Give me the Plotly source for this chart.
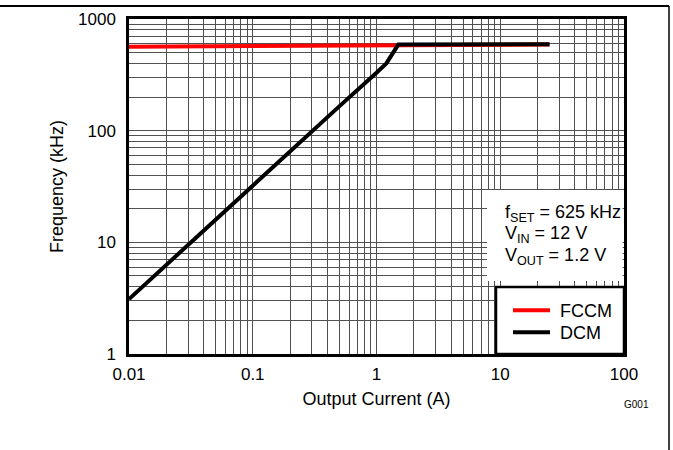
import plotly.graph_objects as go

# ---- data ----
fccm_current = [0.01, 0.1, 1.0, 1.5, 25.0]
fccm_freq = [565, 570, 577, 580, 592]

dcm_current = [0.01, 0.02, 0.05, 0.1, 0.2, 0.5, 1.0, 1.2, 1.5, 2.0, 5.0, 10.0, 25.0]
dcm_freq = [3.1, 6.3, 16.0, 32.5, 65.0, 165.0, 330.0, 400.0, 590.0, 591.0, 593.0, 594.0, 595.0]

x_major = [0.01, 0.1, 1, 10, 100]
x_labels = ["0.01", "0.1", "1", "10", "100"]
y_major = [1, 10, 100, 1000]
y_labels = ["1", "10", "100", "1000"]

annot_lines = ["f<sub>SET</sub> = 625 kHz", "V<sub>IN</sub> = 12 V", "V<sub>OUT</sub> = 1.2 V"]

# ---- layout geometry (pixels) ----
W, H = 673, 450
L, R, T, B = 129, 49, 19, 96
PW = W - L - R
PH = H - T - B


def px(x):
    return (x - L) / PW


def py(y):
    return (H - B - y) / PH


def minor_vals(majors):
    vals = []
    for m in majors[:-1]:
        for k in range(2, 10):
            vals.append(m * k)
    return vals


FONT = "Liberation Sans, Arial, sans-serif"
GRID = "#505050"

fig = go.Figure()
fig.add_trace(go.Scatter(x=fccm_current, y=fccm_freq, mode="lines", name="\u00a0FCCM",
                         line=dict(color="#ff0000", width=4), legend="legend"))
fig.add_trace(go.Scatter(x=dcm_current, y=dcm_freq, mode="lines", name="\u00a0DCM",
                         line=dict(color="#000000", width=4), legend="legend2"))

axis_common = dict(
    showgrid=True, gridcolor=GRID, gridwidth=1,
    showline=True, linecolor="black", linewidth=2.5, mirror=True,
    ticks="", zeroline=False,
    tickfont=dict(family=FONT, size=17, color="black"),
)

fig.update_xaxes(type="log", range=[-2, 2], tickmode="array", tickvals=x_major, ticktext=x_labels,
                 minor=dict(tickmode="array", tickvals=minor_vals(x_major), showgrid=True,
                            gridcolor=GRID, gridwidth=1, ticks=""),
                 ticklabelstandoff=3,
                 title=dict(text="Output Current (A)", font=dict(family=FONT, size=18, color="black"),
                            standoff=10),
                 **axis_common)
fig.update_yaxes(type="log", range=[0, 3], tickmode="array", tickvals=y_major, ticktext=y_labels,
                 minor=dict(tickmode="array", tickvals=minor_vals(y_major), showgrid=True,
                            gridcolor=GRID, gridwidth=1, ticks=""),
                 ticklabelstandoff=7,
                 title=dict(text="Frequency (kHz)", font=dict(family=FONT, size=18, color="black"),
                            standoff=10),
                 **axis_common)

shapes = [
    # white box behind the condition text (stops just short of the right axis line)
    dict(type="rect", xref="paper", yref="paper", x0=px(487), x1=px(622.6), y0=py(281), y1=py(190),
         fillcolor="white", line=dict(width=0), layer="above"),
    # legend box
    dict(type="rect", xref="paper", yref="paper", x0=px(496), x1=px(624), y0=py(354), y1=py(287),
         fillcolor="white", line=dict(color="black", width=2.5), layer="above"),
    # outer frame: top and right
    dict(type="line", xref="paper", yref="paper", x0=px(0), x1=px(669), y0=py(6), y1=py(6),
         line=dict(color="black", width=2), layer="above"),
    dict(type="line", xref="paper", yref="paper", x0=px(669), x1=px(669), y0=py(6), y1=py(450),
         line=dict(color="black", width=1.5), layer="above"),
]

annotations = []
for i, txt in enumerate(annot_lines):
    annotations.append(dict(text=txt, xref="paper", yref="paper", x=px(503), y=py(213 + 21.5 * i),
                            xanchor="left", yanchor="middle", showarrow=False, align="left",
                            font=dict(family=FONT, size=18, color="black")))
annotations.append(dict(text="G001", xref="paper", yref="paper", x=px(636), y=py(404),
                        xanchor="center", yanchor="middle", showarrow=False,
                        font=dict(family=FONT, size=10, color="black")))

leg_common = dict(xanchor="left", yanchor="top", bgcolor="rgba(0,0,0,0)", borderwidth=0,
                  font=dict(family=FONT, size=18, color="black"), itemwidth=37)

fig.update_layout(
    width=W, height=H,
    margin=dict(l=L, r=R, t=T, b=B, autoexpand=False),
    paper_bgcolor="white", plot_bgcolor="white",
    font=dict(family=FONT, size=17, color="black"),
    showlegend=True,
    legend=dict(x=px(508), y=py(292), **leg_common),
    legend2=dict(x=px(508), y=py(314), **leg_common),
    shapes=shapes,
    annotations=annotations,
)

fig.write_html("out.html", config={"displayModeBar": False},
               post_script="document.body.style.margin='0';")
